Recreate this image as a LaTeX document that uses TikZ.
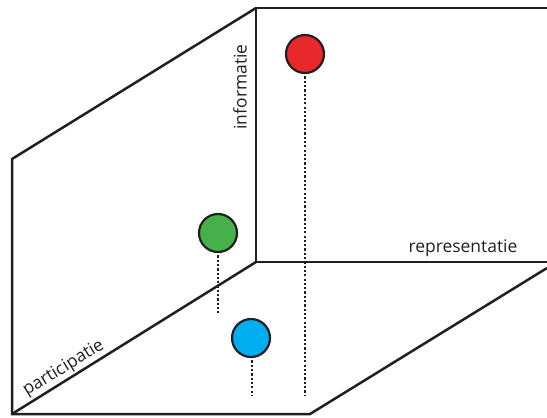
\documentclass[tikz,border=0pt]{standalone}
\usepackage{fontspec}
\setmainfont{Open Sans}
\definecolor{ink}{HTML}{231F20}
\definecolor{pred}{HTML}{E8282A}
\definecolor{pgreen}{HTML}{46B04A}
\definecolor{pblue}{HTML}{00AEEF}
\begin{document}
\begin{tikzpicture}[x=1bp,y=-1bp,
  frame/.style={draw=ink,line width=2.5bp,line join=miter},
  ball/.style={circle,draw=ink,line width=2.2bp,minimum size=38bp,inner sep=0pt},
  drop/.style={draw=ink,line width=2.6bp,dash pattern=on 2.2bp off 2.1bp},
  lab/.style={font=\fontsize{17.5}{20}\selectfont,text=ink,inner sep=0pt}]
\useasboundingbox (0,0) rectangle (547,417);
% corners
\coordinate (B) at (256,8);
\coordinate (TR) at (547,8);
\coordinate (C) at (256,262);
\coordinate (CR) at (547,262);
\coordinate (TL) at (12,159);
\coordinate (F) at (12,414);
\coordinate (BR) at (310,414);
\coordinate (ER) at (547,268);
% frame
\draw[frame] (TR) -- (B) -- (C) -- (CR);
\draw[frame] (C) -- (F);
\draw[frame] (B) -- (TL) -- (F) -- (BR) -- (ER);
% labels
\node[lab,anchor=base] (rep) at (463,252) {representatie};
\node[lab,anchor=base,rotate=90] (inf) at (246.5,87) {informatie};
\node[lab,anchor=base,rotate=31.5] (par) at (66,372) {participatie};
% balls
\node[ball,fill=pred] (r) at (305,54) {};
\node[ball,fill=pgreen] (g) at (218,233) {};
\node[ball,fill=pblue] (b) at (251,338) {};
\coordinate (re) at (305,395);
\coordinate (ge) at (218,313);
\coordinate (be) at (252,395);
\draw[drop] (r.south) ++(0,2bp) -- (re);
\draw[drop] (g.south) ++(0,2bp) -- (ge);
\draw[drop] ([xshift=1bp]b.south) ++(0,2bp) -- (be);
\end{tikzpicture}
\end{document}
